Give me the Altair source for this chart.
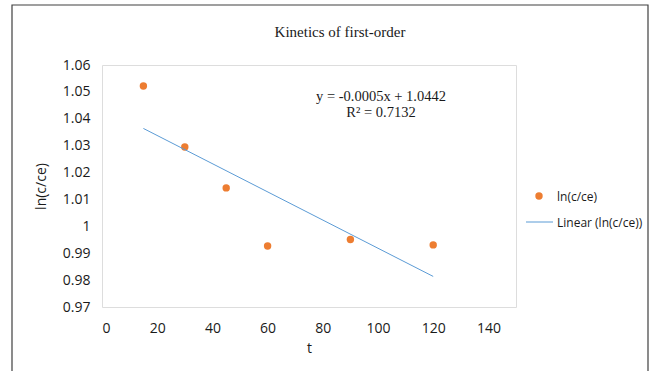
import altair as alt
import pandas as pd

# data
t_values = [15, 30, 45, 60, 90, 120]
ln_values = [1.0522, 1.0295, 1.0143, 0.9927, 0.9951, 0.9931]
series_names = ["ln(c/ce)", "Linear (ln(c/ce))"]
equation_lines = ["y = -0.0005x + 1.0442", "R² = 0.7132"]
chart_title = ["Kinetics of first-order"]
x_ticks = [0, 20, 40, 60, 80, 100, 120, 140]
y_ticks = [0.97, 0.98, 0.99, 1.0, 1.01, 1.02, 1.03, 1.04, 1.05, 1.06]

df = pd.DataFrame({"t": t_values, "y": ln_values})

W, H = 414, 242
SANS = "Open Sans"
SERIF = "Liberation Serif"
ORANGE = "#ED7D31"
BLUE = "#5B9BD5"
TXT = "#1a1a1a"

x_enc = alt.X(
    "t:Q",
    scale=alt.Scale(domain=[0, 150], nice=False, zero=False),
    axis=alt.Axis(
        values=x_ticks, title="t", grid=False, ticks=False, domain=False, labelOverlap=False,
        labelFont=SANS, labelFontSize=14, labelColor=TXT, labelPadding=14,
        titleFont=SANS, titleFontSize=14, titleFontWeight="normal", titleColor=TXT,
        titlePadding=6,
    ),
)
y_enc = alt.Y(
    "y:Q",
    scale=alt.Scale(domain=[0.97, 1.06], nice=False, zero=False),
    axis=alt.Axis(
        values=y_ticks, format="~g", title="ln(c/ce)", grid=False, ticks=False, domain=False,
        labelOverlap=False, labelSeparation=0,
        labelFont=SANS, labelFontSize=14, labelColor=TXT, labelPadding=12,
        titleFont=SANS, titleFontSize=14, titleFontWeight="normal", titleColor=TXT,
        titlePadding=14,
    ),
)

base = alt.Chart(df)

points = base.mark_circle(size=55, color=ORANGE, opacity=1).encode(x=x_enc, y=y_enc)

trend = (
    base.transform_regression("t", "y")
    .mark_line(color=BLUE, strokeWidth=1)
    .encode(x=x_enc, y=y_enc)
)


def text_layer(value, x, y, font, size, align="center"):
    return alt.Chart(pd.DataFrame({"label": [value]})).mark_text(
        font=font, fontSize=size, color=TXT, align=align, baseline="middle"
    ).encode(text="label:N", x=alt.value(x), y=alt.value(y))


title = text_layer(chart_title[0], 238, -33, SERIF, 15)
eq1 = text_layer(equation_lines[0], 279, 32, SERIF, 14.5)
eq2 = text_layer(equation_lines[1], 279, 48, SERIF, 14.5)

frame = alt.Chart(pd.DataFrame({"k": [0]})).mark_rect(
    fill=None, stroke="#404040", strokeWidth=1.2
).encode(x=alt.value(-90), x2=alt.value(546), y=alt.value(-60), y2=alt.value(400))

leg_point = alt.Chart(pd.DataFrame({"name": [series_names[0]]})).mark_circle(
    size=55, color=ORANGE, opacity=1
).encode(x=alt.value(437), y=alt.value(131))
leg_rule = alt.Chart(pd.DataFrame({"name": [series_names[1]]})).mark_rule(
    color=BLUE, strokeWidth=1
).encode(x=alt.value(424), x2=alt.value(451), y=alt.value(157))
leg_t1 = text_layer(series_names[0], 455, 132, SANS, 12, align="left")
leg_t2 = text_layer(series_names[1], 455, 158, SANS, 12, align="left")

chart = (
    alt.layer(frame, points, trend, eq1, eq2, title, leg_point, leg_rule, leg_t1, leg_t2)
    .properties(
        width=W,
        height=H,
        autosize=alt.AutoSizeParams(type="none"),
        padding={"left": 102, "top": 65, "right": 134, "bottom": 64},
    )
    .configure_view(stroke="#bdbdbd", strokeWidth=1)
    .configure_axis(labelOverlap=False)
    .configure(background="white")
)

chart.save("out.html", embed_options={"renderer": "svg", "actions": False})
